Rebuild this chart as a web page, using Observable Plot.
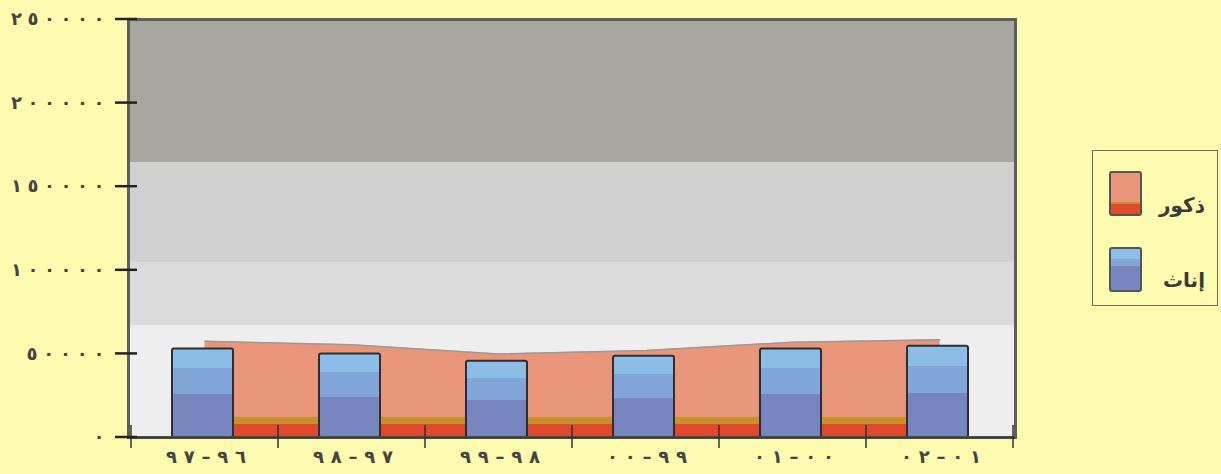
<!DOCTYPE html>
<html><head><meta charset="utf-8">
<script src="https://cdn.jsdelivr.net/npm/d3@7"></script>
<script src="https://cdn.jsdelivr.net/npm/@observablehq/plot@0.6"></script>
<style>
body{margin:0;background:#fdfbb0;}
#wrap{position:relative;width:1221px;height:474px;overflow:hidden;background:#fdfbb0;}
#wrap svg{position:absolute;left:0;top:0;}
g[aria-label="y-axis tick label"] text{font-weight:bold;}
g[aria-label="x-axis tick label"] text{font-weight:bold;}
#legend{position:absolute;left:1092px;top:150px;width:126px;height:156px;border:1.5px solid #6e6e6e;box-sizing:border-box;background:#fdfbb0;font-family:'DejaVu Sans',sans-serif;}
#legend .sw{position:absolute;left:16px;width:33px;height:45px;box-sizing:border-box;border:2px solid #555;border-radius:3px;}
#legend .male{top:20px;background:linear-gradient(to bottom,#e8957a 0%,#e8957a 70%,#c8902c 70%,#c8902c 75%,#e04a2c 75%,#e04a2c 100%);}
#legend .fem{top:96px;background:linear-gradient(to bottom,#8bbde6 0%,#8bbde6 25%,#80a5d6 25%,#80a5d6 42%,#7886c0 42%,#7886c0 100%);}
#legend .lt{position:absolute;left:54px;width:58px;text-align:right;direction:rtl;font-size:20px;font-weight:bold;color:#3a3a3a;}
</style></head><body>
<div id="wrap"></div>
<script>
const categories = ["٩٦–٩٧","٩٧–٩٨","٩٨–٩٩","٩٩–٠٠","٠٠–٠١","٠١–٠٢"];
const males = [57600,55400,50000,52000,57000,58400];
const females = [53000,50000,45600,48600,53000,54600];
const yTicks = [0,50000,100000,150000,200000,250000];
const yTickLabels = ["٠","٥٠٠٠٠","١٠٠٠٠٠","١٥٠٠٠٠","٢٠٠٠٠٠","٢٥٠٠٠٠"];
const seriesNames = ["ذكور","إناث"];

const data = categories.map((c,i)=>({cat:c, male:males[i], female:females[i]}));

function defs() {
  const d = document.createElementNS("http://www.w3.org/2000/svg","defs");
  d.innerHTML = `
  <linearGradient id="wall" x1="0" y1="0" x2="0" y2="1">
    <stop offset="0" stop-color="#a7a7a0"/><stop offset="0.342" stop-color="#a7a7a0"/>
    <stop offset="0.342" stop-color="#d0d0d0"/><stop offset="0.581" stop-color="#d0d0d0"/>
    <stop offset="0.581" stop-color="#dadada"/><stop offset="0.732" stop-color="#dadada"/>
    <stop offset="0.732" stop-color="#eeeeee"/><stop offset="1" stop-color="#eeeeee"/>
  </linearGradient>
  <linearGradient id="maleGrad" x1="0" y1="0" x2="0" y2="1">
    <stop offset="0" stop-color="#e8957a"/><stop offset="0.796" stop-color="#e8957a"/>
    <stop offset="0.796" stop-color="#c8902c"/><stop offset="0.867" stop-color="#c8902c"/>
    <stop offset="0.867" stop-color="#e04a2c"/><stop offset="1" stop-color="#e04a2c"/>
  </linearGradient>
  <linearGradient id="femGrad" x1="0" y1="0" x2="0" y2="1">
    <stop offset="0" stop-color="#8bbde6"/><stop offset="0.225" stop-color="#8bbde6"/>
    <stop offset="0.225" stop-color="#80a5d6"/><stop offset="0.517" stop-color="#80a5d6"/>
    <stop offset="0.517" stop-color="#7886c0"/><stop offset="1" stop-color="#7886c0"/>
  </linearGradient>`;
  return d;
}

function tickMarks(index, scales, values, dims) {
  const g = d3.create("svg:g");
  const x = scales.x, y = scales.y;
  const bw = x.bandwidth ? x.bandwidth() : 0;
  const y0 = y(0);
  const xs = categories.map(c => x(c)).concat([x(categories[categories.length-1]) + bw]);
  g.append("g").selectAll("line").data(xs).join("line")
    .attr("x1",d=>d).attr("x2",d=>d).attr("y1",y0-12).attr("y2",y0+11)
    .attr("stroke","#333").attr("stroke-width",1.5);
  const xl = dims.marginLeft;
  g.append("g").selectAll("line").data(yTicks).join("line")
    .attr("x1",xl-13).attr("x2",xl+9).attr("y1",d=>y(d)).attr("y2",d=>y(d))
    .attr("stroke","#222").attr("stroke-width",2.5);
  return g.node();
}

const chart = Plot.plot({
  width:1221, height:474, marginLeft:128, marginRight:206, marginTop:19, marginBottom:37,
  style:{background:"transparent", fontFamily:"'DejaVu Sans', sans-serif", overflow:"visible"},
  x:{domain:categories, padding:0, label:null},
  y:{domain:[0,250000], label:null},
  marks:[
    defs,
    Plot.frame({fill:"url(#wall)"}),
    Plot.areaY(data,{x:"cat", y:"male", fill:"url(#maleGrad)"}),
    Plot.lineY(data,{x:"cat", y:"male", stroke:"#9a9a9a", strokeWidth:1.5}),
    Plot.barY(data,{x:"cat", y:"female", insetLeft:41, insetRight:45, fill:"url(#femGrad)", stroke:"#2e2e2e", strokeWidth:2, rx:2}),
    Plot.frame({stroke:"#5e5e5e", strokeWidth:3}),
    Plot.ruleY([0],{stroke:"#3a3a3a", strokeWidth:2}),
    Plot.axisY(yTicks,{tickSize:0, tickPadding:24, tickFormat:d=>yTickLabels[yTicks.indexOf(d)], fontSize:18, fill:"#444"}),
    Plot.axisX({tickSize:0, tickPadding:13, fontSize:18, fill:"#444", dx:1}),
    tickMarks
  ]
});
// widen the digit spacing like the original (spacing only)
d3.select(chart).selectAll('g[aria-label="y-axis tick label"] text').each(function(){
  const n = this.textContent.length;
  if (n > 1) { this.setAttribute("textLength", n * 15.6); this.setAttribute("lengthAdjust", "spacing"); }
});
d3.select(chart).selectAll('g[aria-label="x-axis tick label"] text').each(function(){
  this.setAttribute("textLength", 80); this.setAttribute("lengthAdjust", "spacing");
});
const wrap = document.getElementById("wrap");
wrap.appendChild(chart);
const legend = document.createElement("div");
legend.id = "legend";
legend.innerHTML = `<div class="sw male"></div><div class="lt" style="top:42px">${seriesNames[0]}</div>
<div class="sw fem"></div><div class="lt" style="top:117px">${seriesNames[1]}</div>`;
wrap.appendChild(legend);
</script>
</body></html>
